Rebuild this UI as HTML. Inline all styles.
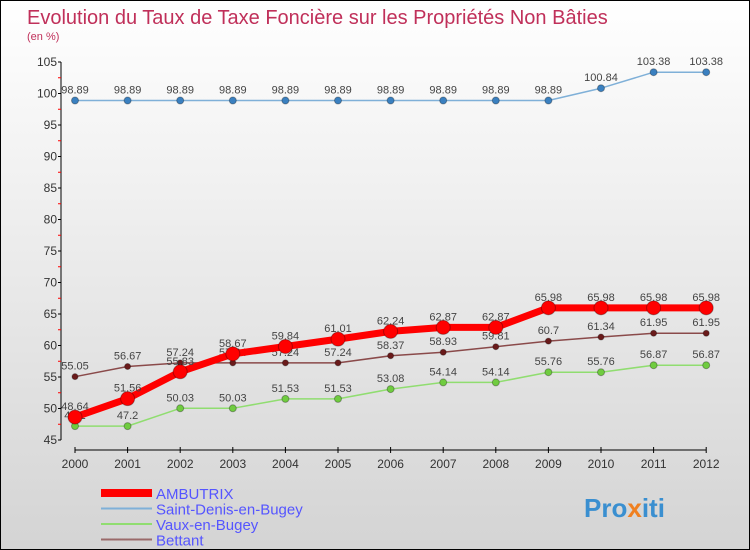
<!DOCTYPE html>
<html><head><meta charset="utf-8"><style>
body{margin:0}
#c{width:750px;height:550px;position:relative;box-sizing:border-box;border:1px solid #000;background:linear-gradient(#fff,#d4d4d4);font-family:"Liberation Sans",sans-serif;overflow:hidden}
</style></head><body>
<div id="c">
<svg id="s" width="748" height="548" xmlns="http://www.w3.org/2000/svg">
<text x="26" y="23" font-size="20" fill="#c0305a">Evolution du Taux de Taxe Foncière sur les Propriétés Non Bâties</text>
<text x="26" y="39" font-size="11" fill="#c0305a">(en %)</text>
<g id="axes"></g><g id="series"></g>
<g id="legend"></g>
<text x="583" y="516" font-size="26" font-weight="bold" fill="#3a8fd0">Pro<tspan fill="#f08020">x</tspan>iti</text>
</svg></div>
<script>
const years=[2000,2001,2002,2003,2004,2005,2006,2007,2008,2009,2010,2011,2012];
const yTicks=[45,50,55,60,65,70,75,80,85,90,95,100,105];
const ambutrix=[48.64,51.56,55.83,58.67,59.84,61.01,62.24,62.87,62.87,65.98,65.98,65.98,65.98];
const saintDenis=[98.89,98.89,98.89,98.89,98.89,98.89,98.89,98.89,98.89,98.89,100.84,103.38,103.38];
const vaux=[47.2,47.2,50.03,50.03,51.53,51.53,53.08,54.14,54.14,55.76,55.76,56.87,56.87];
const bettant=[55.05,56.67,57.24,57.24,57.24,57.24,58.37,58.93,59.81,60.7,61.34,61.95,61.95];
const NS="http://www.w3.org/2000/svg";
const X=i=>74+52.6*i, Y=v=>439-(v-45)*(378/60);
function mk(p,t,a){const e=document.createElementNS(NS,t);for(const k in a)e.setAttribute(k,a[k]);p.appendChild(e);return e;}
const ax=document.getElementById('axes');
const yl=mk(ax,'line',{x1:60,y1:Y(105),x2:60,y2:Y(45),stroke:'#000'});


yTicks.forEach(t=>{mk(ax,'line',{x1:57,y1:Y(t),x2:60,y2:Y(t),stroke:'#000'});
 mk(ax,'line',{x1:57,y1:Y(t+2.5),x2:60,y2:Y(t+2.5),stroke:t<105?'#f00':'none'});
 const tx=mk(ax,'text',{x:56,y:Y(t)+4,'font-size':12,'text-anchor':'end',fill:'#333'});tx.textContent=t;
 
 });
const xl=mk(ax,'line',{x1:X(0),y1:449,x2:X(12),y2:449,stroke:'#000'});


years.forEach((y,i)=>{mk(ax,'line',{x1:X(i),y1:446,x2:X(i),y2:452,stroke:'#000'});
 const tx=mk(ax,'text',{x:X(i),y:467,'font-size':12,'text-anchor':'middle',fill:'#333'});tx.textContent=y;
 
 });
const sg=document.getElementById('series');
function series(name,data,color,w,r,dot){
 const g=mk(sg,'g',{});
 
 
 mk(g,'polyline',{points:data.map((v,i)=>X(i)+','+Y(v)).join(' '),fill:'none',stroke:color,'stroke-width':w,'stroke-linejoin':'round'});
 data.forEach((v,i)=>{const c=mk(g,'circle',{cx:X(i),cy:Y(v),r:r,fill:dot,stroke:'rgba(0,0,0,0.3)'});
  
  
  const t=mk(g,'text',{x:X(i),y:Y(v)-7,'font-size':11,'text-anchor':'middle',fill:'#444'});t.textContent=v;
  
  });
}
series('saint-denis',saintDenis,'#7fb0d8',1.5,3.5,'#3a80c0');
series('bettant',bettant,'#8a4a4a',1.5,3,'#6a1a1a');
series('vaux',vaux,'#90dd70',1.5,3.5,'#70cc40');
series('ambutrix',ambutrix,'#f00',7,7,'#f00');
const lg=document.getElementById('legend');
const items=[['AMBUTRIX','#f00',8],['Saint-Denis-en-Bugey','#7fb0d8',2],['Vaux-en-Bugey','#90dd70',2],['Bettant','#9a6a6a',2]];
items.forEach((it,i)=>{const y=492+i*15.5;
 const g=mk(lg,'g',{});
 
 
 mk(g,'line',{x1:100,y1:y,x2:151,y2:y,stroke:it[1],'stroke-width':it[2]});
 const t=mk(g,'text',{x:155,y:y+6,'font-size':15,fill:'#5555ff'});t.textContent=it[0];});
</script>
</body></html>
